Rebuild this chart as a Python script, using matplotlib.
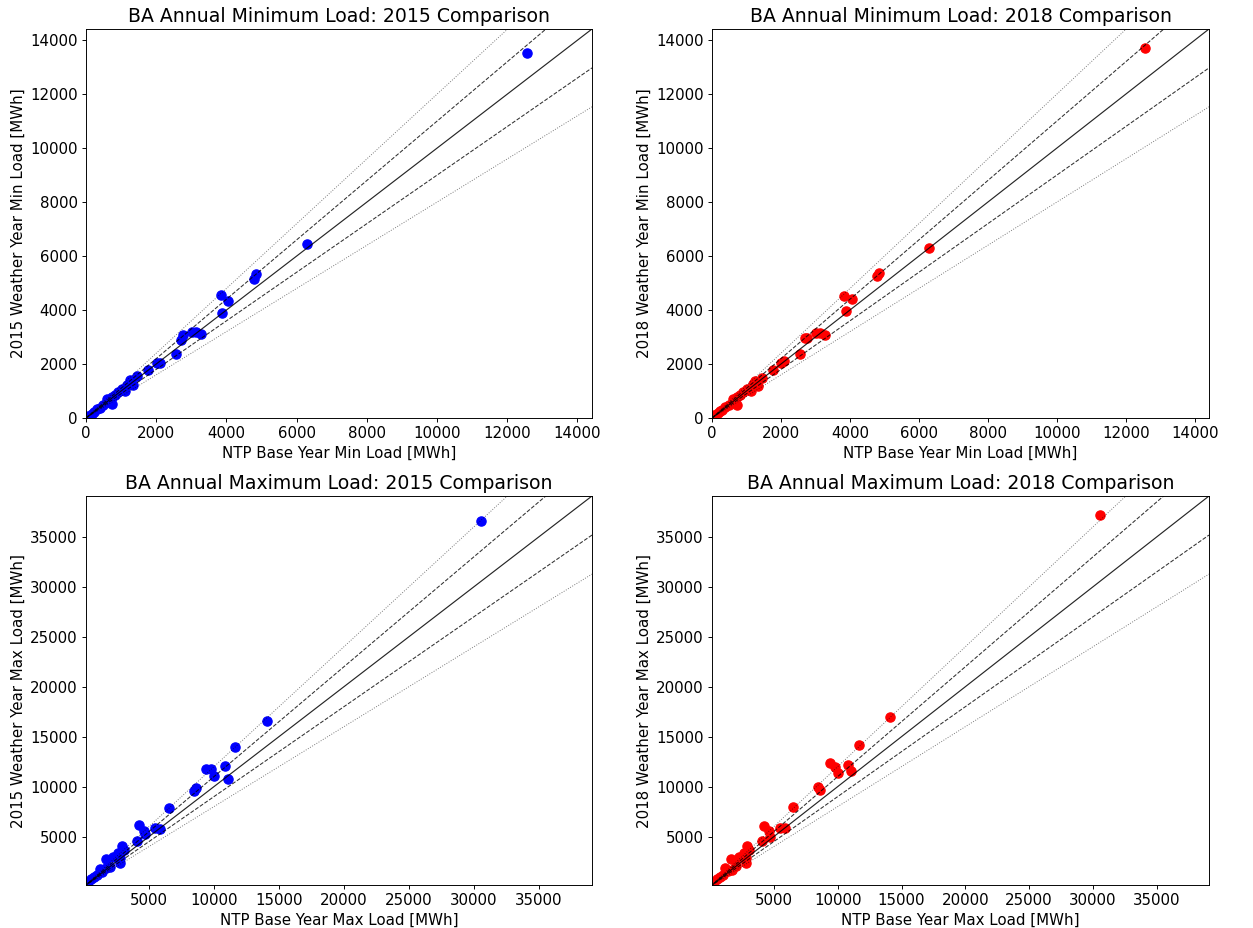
import numpy as np
import matplotlib
matplotlib.use("Agg")
import matplotlib.pyplot as plt

# BA annual minimum load (NTP base year vs weather years)
min_base = [12565, 6290, 4850, 4790, 3840, 4050, 3880, 3030, 3125, 3290,
            2770, 2700, 2565, 2015, 2100, 1765, 1450, 1250, 1345, 1125,
            1015, 900, 730, 735, 600, 640, 390, 240, 160, 70, 0,
            480, 820, 1180, 300]
min_2015 = [13510, 6430, 5350, 5150, 4550, 4325, 3890, 3190, 3190, 3125,
            3065, 2900, 2385, 2040, 2040, 1770, 1545, 1395, 1210, 1000,
            1090, 965, 780, 505, 715, 595, 385, 225, 160, 75, 0,
            470, 860, 1230, 320]
min_2018 = [13730, 6315, 5375, 5250, 4525, 4400, 3955, 3150, 3150, 3090,
            2965, 2965, 2385, 2040, 2100, 1770, 1495, 1372, 1190, 1000,
            1060, 965, 778, 495, 717, 620, 408, 260, 170, 99, 0,
            490, 850, 1250, 310]

# BA annual maximum load
max_base = [30555, 14070, 11640, 10820, 9360, 9800, 9985, 11055, 8480, 8650,
            6500, 4230, 4620, 4725, 5480, 5860, 4080, 2900, 3060, 2620,
            2230, 2800, 2800, 1670, 1200, 1700, 2000, 790, 530, 270, 150,
            1000, 1400]
max_2015 = [36570, 16600, 13930, 12070, 11730, 11770, 11100, 10730, 9600, 9830,
            7830, 6170, 5600, 5230, 5830, 5770, 4570, 4070, 3670, 3400,
            3000, 2830, 2330, 2730, 1770, 1830, 2000, 1000, 730, 500, 170,
            1200, 1500]
max_2018 = [37230, 16930, 14200, 12200, 12330, 12000, 11400, 11530, 9930, 9670,
            7930, 6070, 5600, 5000, 5900, 5900, 4600, 4100, 3670, 3400,
            3000, 2830, 2400, 2770, 1830, 1670, 2070, 1000, 730, 500, 160,
            1180, 1520]

panels = [
    ("Min", "Minimum", 2015, min_base, min_2015, "blue"),
    ("Min", "Minimum", 2018, min_base, min_2018, "red"),
    ("Max", "Maximum", 2015, max_base, max_2015, "blue"),
    ("Max", "Maximum", 2018, max_base, max_2018, "red"),
]

W, H = 1253, 928
dpi = 85
fig = plt.figure(figsize=(W / dpi, H / dpi), dpi=dpi)

# axes boxes in pixels: left, top, right, bottom
boxes = [(86, 29, 592, 418), (712, 29, 1209, 418),
         (86, 496, 592, 885), (712, 496, 1209, 885)]

for (short, long_, year, xb, yw, col), (l, t, r, b) in zip(panels, boxes):
    ax = fig.add_axes([l / W, 1 - b / H, (r - l) / W, (b - t) / H])

    # limits shared by both years of the same quantity
    if short == "Min":
        allv = min_base + min_2015 + min_2018
    else:
        allv = max_base + max_2015 + max_2018
    lo = min(allv)
    hi = max(allv) * 1.05

    ax.scatter(xb, yw, s=62, color=col, zorder=1)

    xx = np.array([0, hi])
    ax.plot(xx, xx, color="k", lw=1.0, alpha=0.85)
    ax.plot(xx, 1.1 * xx, color="k", ls="--", lw=0.9, alpha=0.8)
    ax.plot(xx, 0.9 * xx, color="k", ls="--", lw=0.9, alpha=0.8)
    ax.plot(xx, 1.2 * xx, color="k", ls=":", lw=0.8, alpha=0.55)
    ax.plot(xx, 0.8 * xx, color="k", ls=":", lw=0.8, alpha=0.55)

    ax.set_xlim(lo, hi)
    ax.set_ylim(lo, hi)
    ax.set_title(f"BA Annual {long_} Load: {year} Comparison", fontsize=16)
    ax.set_xlabel(f"NTP Base Year {short} Load [MWh]", fontsize=12.7)
    ax.set_ylabel(f"{year} Weather Year {short} Load [MWh]", fontsize=12.7)
    ax.tick_params(labelsize=12.7)

fig.savefig("out.png", dpi=dpi)
